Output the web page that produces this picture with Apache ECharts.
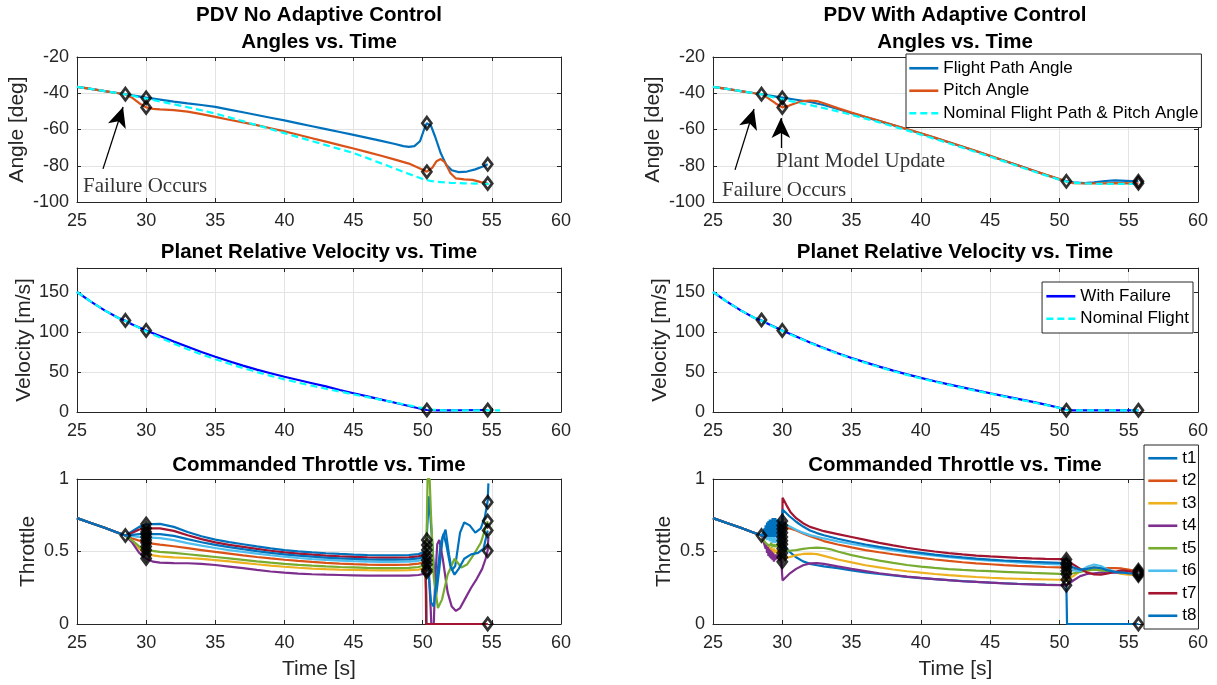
<!DOCTYPE html>
<html><head><meta charset="utf-8">
<script src="https://cdn.jsdelivr.net/npm/echarts/dist/echarts.min.js"></script>
<style>html,body{margin:0;padding:0;background:#fff}#c{width:1217px;height:685px}</style>
</head><body><div id="c"></div><script>
// ---------------- DATA ----------------
const X_MIN = 25, X_MAX = 60, X_STEP = 5;
const ANG_MIN = -100, ANG_MAX = -20, ANG_STEP = 20;
const VEL_MIN = 0, VEL_MAX = 180, VEL_STEP = 50;
const THR_MIN = 0, THR_MAX = 1, THR_STEP = 0.5;

const titleTopL = ['PDV No Adaptive Control', 'Angles vs. Time'];
const titleTopR = ['PDV With Adaptive Control', 'Angles vs. Time'];
const titleVel = 'Planet Relative Velocity vs. Time';
const titleThr = 'Commanded Throttle vs. Time';
const angLegend = ['Flight Path Angle', 'Pitch Angle', 'Nominal Flight Path & Pitch Angle'];
const velLegend = ['With Failure', 'Nominal Flight'];
const thrLegend = ['t1', 't2', 't3', 't4', 't5', 't6', 't7', 't8'];

// --- Angles, no adaptive control
const angL_fpa = [[25,-36.5],[26,-37.6],[27,-38.8],[28,-40],[28.5,-40.5],[29,-41.2],[30,-42.4],[31,-43.5],[32,-44.6],[33,-45.6],[34,-46.5],[35,-47.5],[36,-49],[37,-50.5],[38,-52],[39,-53.5],[40,-55],[41,-56.6],[42,-58.2],[43,-59.8],[44,-61.4],[45,-63],[46,-64.6],[47,-66.3],[48,-68],[48.6,-69.2],[49,-69.6],[49.4,-69.2],[49.8,-66.5],[50.1,-60],[50.3,-56.5],[50.6,-58],[50.9,-64],[51.3,-73],[51.7,-79.5],[52.1,-82.5],[52.6,-83.5],[53.2,-83.2],[53.8,-82],[54.3,-80.5],[54.7,-79.2]];
const angL_pitch = [[25,-36.5],[26,-37.6],[27,-38.8],[28,-40],[28.5,-40.5],[29,-42.5],[29.5,-45.5],[30,-47.8],[30.5,-48.6],[31,-48.9],[32,-49.3],[33,-50.1],[34,-51.5],[35,-53],[36,-54.6],[37,-56.1],[38,-57.6],[39,-59.3],[40,-61],[41,-62.9],[42,-64.8],[43,-66.7],[44,-68.6],[45,-70.5],[46,-72.5],[47,-74.5],[48,-76.6],[49,-78.8],[49.8,-81.5],[50.3,-83.3],[50.7,-81],[51.0,-77.5],[51.3,-76.3],[51.6,-78],[52.0,-84],[52.4,-87],[53,-87.5],[53.6,-87.8],[54.2,-89],[54.7,-89.8]];
const angL_nom = [[25,-36.5],[26,-37.6],[27,-38.8],[28,-40],[28.5,-40.6],[29,-41.4],[30,-43],[31,-44.5],[32,-46.1],[33,-47.7],[34,-49.4],[35,-51.2],[36,-53.3],[37,-55.4],[38,-57.6],[39,-59.8],[40,-62],[41,-64.2],[42,-66.4],[43,-68.6],[44,-70.8],[45,-73],[46,-75.8],[47,-78.7],[48,-81.6],[49,-84.5],[50,-87.3],[50.5,-88.3],[51,-88.9],[52,-89.4],[53,-89.7],[54,-89.9],[54.8,-90]];
const angL_marks = [[28.5,-40.5],[30,-42.5],[30,-47.8],[50.3,-56.5],[50.3,-83.3],[54.7,-79.2],[54.7,-89.8]];

// --- Angles, with adaptive control
const angR_fpa = [[25,-36.5],[26,-37.6],[27,-38.8],[28,-40],[28.5,-40.5],[29,-41.2],[30,-42.4],[31,-43.6],[32,-44.8],[33,-46.5],[34,-48.7],[35,-51],[36,-53.2],[37,-55.4],[38,-57.6],[39,-59.9],[40,-62.2],[41,-64.6],[42,-67],[43,-69.5],[44,-72],[45,-74.6],[46,-77.2],[47,-79.8],[48,-82.4],[49,-85],[50,-87.5],[50.5,-88.5],[51,-89.2],[51.8,-89.6],[52.5,-89.2],[53.3,-88.4],[54,-88.1],[54.8,-88.3],[55.7,-88.6]];
const angR_pitch = [[25,-36.5],[26,-37.6],[27,-38.8],[28,-40],[28.5,-40.5],[29,-42.8],[29.5,-45.5],[30,-47.8],[30.5,-46.8],[31,-45.4],[31.5,-44.3],[32,-44],[32.5,-44.3],[33,-45.5],[34,-48.2],[35,-50.7],[36,-53],[37,-55.2],[38,-57.5],[39,-59.8],[40,-62.1],[41,-64.5],[42,-66.9],[43,-69.4],[44,-71.9],[45,-74.5],[46,-77.1],[47,-79.7],[48,-82.3],[49,-84.9],[50,-87.4],[50.5,-88.7],[51,-89.6],[52,-89.8],[53,-89.7],[54,-89.6],[55.7,-89.7]];
const angR_nom = [[25,-36.5],[26,-37.6],[27,-38.8],[28,-40],[28.5,-40.6],[29,-41.6],[30,-43.4],[31,-45],[32,-46.5],[33,-48.2],[34,-50],[35,-51.9],[36,-54],[37,-56.1],[38,-58.3],[39,-60.5],[40,-62.8],[41,-65.2],[42,-67.6],[43,-70],[44,-72.5],[45,-75],[46,-77.6],[47,-80.2],[48,-82.8],[49,-85.3],[50,-87.7],[50.5,-88.7],[51,-89.4],[52,-89.8],[53,-90],[55.7,-90]];
const angR_marks = [[28.5,-40.5],[30,-42.5],[30,-47.8],[50.5,-88.6],[55.7,-88.6],[55.7,-89.7]];

// --- Velocity
const velL_fail = [[25,150],[26,138],[27,127],[28,117.5],[28.5,114],[29,109.5],[30,102],[31,95],[32,88],[33,81.5],[34,75],[35,69],[36,63.5],[37,58],[38,53],[39,48.5],[40,44],[41,40],[42,36],[43,32],[44,27.5],[45,23.5],[46,19.5],[47,15.5],[48,11.5],[49,7.5],[50,3.5],[50.3,2.5],[51,2],[52,2],[53,2.2],[54,2.4],[54.7,2.5]];
const velL_nom = [[25,150],[26,138],[27,127],[28,117.5],[28.5,114],[29,109.5],[30,101],[31,93],[32,85.5],[33,78.5],[34,72],[35,66],[36,60.3],[37,55],[38,50],[39,45.2],[40,40.8],[41,36.7],[42,32.8],[43,29],[44,25.5],[45,22],[46,18.6],[47,15.2],[48,11.8],[49,8.3],[50,4.8],[50.6,3],[51.5,2],[52.5,2],[53.5,2],[54.5,2],[55.6,2]];
const velL_marks = [[28.5,114.5],[30,102],[50.3,2.5],[54.7,2.5]];
const velR_fail = [[25,150],[26,138],[27,127],[28,117.5],[28.5,114.5],[29,110],[30,102],[31,94.5],[32,87],[33,80],[34,73.5],[35,67.5],[36,62],[37,56.7],[38,51.7],[39,47],[40,42.6],[41,38.5],[42,34.5],[43,30.7],[44,27],[45,23.4],[46,19.9],[47,16.4],[48,12.9],[49,9.3],[50,5.3],[50.5,2.5],[51,2],[52,2],[53,2],[54,2],[55,2],[55.7,2]];
const velR_nom = [[25,150],[26,138],[27,127],[28,117.5],[28.5,114.3],[29,109.7],[30,101.5],[31,93.8],[32,86.4],[33,79.4],[34,72.9],[35,66.9],[36,61.4],[37,56.1],[38,51.1],[39,46.4],[40,42],[41,37.9],[42,33.9],[43,30.1],[44,26.4],[45,22.9],[46,19.4],[47,15.9],[48,12.4],[49,8.9],[50,5],[50.5,2.4],[51,2],[52,2],[53,2],[54,2],[55,2],[55.7,2]];
const velR_marks = [[28.5,115],[30,102],[50.5,2.2],[55.7,2.2]];

// --- Throttle (shared start, before failure)
const thrStart = [[25,0.73],[26,0.697],[27,0.664],[28,0.627],[28.5,0.61]];

// no adaptive control
const thrL_t1 = [[29,0.64],[29.5,0.67],[30,0.688],[31,0.69],[32,0.67],[33,0.635],[34,0.605],[35,0.582],[36,0.565],[37,0.55],[38,0.535],[39,0.522],[40,0.51],[41,0.501],[42,0.494],[43,0.488],[44,0.483],[45,0.479],[46,0.476],[47,0.474],[48,0.474],[49,0.476],[49.7,0.482],[50.2,0.5],[50.3,0.62],[50.45,0.88],[50.55,0.88],[50.7,0.55],[50.95,0.18],[51.2,0.38],[51.45,0.6],[51.65,0.65],[51.9,0.48],[52.1,0.37],[52.35,0.4],[52.7,0.63],[53.0,0.70],[53.4,0.68],[53.8,0.63],[54.2,0.66],[54.5,0.74],[54.7,0.85],[54.75,0.97]];
const thrL_t2 = [[29,0.59],[29.5,0.575],[30,0.56],[31,0.547],[32,0.536],[33,0.523],[34,0.51],[35,0.497],[36,0.485],[37,0.473],[38,0.462],[39,0.452],[40,0.443],[41,0.435],[42,0.428],[43,0.422],[44,0.417],[45,0.413],[46,0.41],[47,0.408],[48,0.408],[49,0.41],[49.7,0.416],[50.2,0.428],[50.3,0.43],[50.3,0],[54.7,0]];
const thrL_t3 = [[29,0.57],[29.5,0.52],[30,0.48],[31,0.466],[32,0.46],[33,0.455],[34,0.449],[35,0.441],[36,0.432],[37,0.422],[38,0.412],[39,0.403],[40,0.395],[41,0.388],[42,0.382],[43,0.378],[44,0.375],[45,0.373],[46,0.371],[47,0.37],[48,0.37],[49,0.371],[49.7,0.375],[50.2,0.385],[50.3,0.39],[50.3,0],[54.7,0]];
const thrL_t4 = [[29,0.56],[29.5,0.49],[30,0.452],[30.5,0.43],[31,0.423],[32,0.42],[33,0.419],[34,0.415],[35,0.407],[36,0.396],[37,0.385],[38,0.373],[39,0.362],[40,0.354],[41,0.348],[42,0.343],[43,0.34],[44,0.338],[45,0.336],[46,0.334],[47,0.333],[48,0.333],[49,0.334],[49.7,0.338],[50.2,0.348],[50.45,0.34],[50.58,0.1],[50.62,0],[50.8,0],[50.9,0.3],[51.05,0.55],[51.2,0.58],[51.45,0.45],[51.8,0.22],[52.1,0.12],[52.4,0.09],[52.7,0.11],[53.1,0.18],[53.5,0.25],[53.9,0.31],[54.3,0.38],[54.55,0.45],[54.7,0.51],[54.75,0.6]];
const thrL_t5 = [[29,0.575],[29.5,0.535],[30,0.51],[31,0.497],[32,0.49],[33,0.481],[34,0.472],[35,0.462],[36,0.452],[37,0.442],[38,0.432],[39,0.423],[40,0.415],[41,0.408],[42,0.402],[43,0.397],[44,0.393],[45,0.39],[46,0.387],[47,0.385],[48,0.385],[49,0.387],[49.7,0.393],[50.2,0.405],[50.3,0.7],[50.35,1.0],[50.5,1.0],[50.6,0.75],[50.8,0.32],[51.1,0.11],[51.4,0.17],[51.8,0.34],[52.3,0.45],[52.8,0.39],[53.2,0.41],[53.7,0.48],[54.2,0.56],[54.5,0.65],[54.7,0.71]];
const thrL_t6 = [[29,0.605],[29.5,0.6],[30,0.598],[31,0.592],[32,0.578],[33,0.558],[34,0.54],[35,0.524],[36,0.51],[37,0.497],[38,0.485],[39,0.474],[40,0.464],[41,0.455],[42,0.448],[43,0.442],[44,0.437],[45,0.433],[46,0.43],[47,0.428],[48,0.428],[49,0.43],[49.7,0.436],[50.2,0.448],[50.3,0.45],[50.3,0],[54.7,0]];
const thrL_t7 = [[29,0.63],[29.5,0.652],[30,0.66],[31,0.66],[32,0.642],[33,0.612],[34,0.585],[35,0.563],[36,0.546],[37,0.532],[38,0.518],[39,0.505],[40,0.494],[41,0.485],[42,0.478],[43,0.472],[44,0.467],[45,0.463],[46,0.46],[47,0.458],[48,0.458],[49,0.46],[49.7,0.466],[50.2,0.48],[50.25,0.48],[50.25,0],[54.7,0]];
const thrL_t8 = [[29,0.615],[29.5,0.62],[30,0.62],[31,0.62],[32,0.608],[33,0.585],[34,0.564],[35,0.546],[36,0.53],[37,0.516],[38,0.503],[39,0.491],[40,0.48],[41,0.471],[42,0.464],[43,0.458],[44,0.453],[45,0.449],[46,0.446],[47,0.444],[48,0.444],[49,0.446],[49.7,0.452],[50.2,0.465],[50.35,0.45],[50.6,0.15],[50.8,0.12],[51.0,0.3],[51.3,0.55],[51.5,0.62],[51.7,0.55],[52.0,0.4],[52.3,0.34],[52.6,0.38],[53,0.45],[53.5,0.48],[54,0.49],[54.4,0.52],[54.7,0.645]];
const thrL_marks = [[28.5,0.61],[30,0.69],[30,0.66],[30,0.635],[30,0.62],[30,0.6],[30,0.58],[30,0.56],[30,0.535],[30,0.51],[30,0.48],[30,0.452],[50.3,0.58],[50.3,0.545],[50.3,0.51],[50.3,0.47],[50.3,0.44],[50.3,0.41],[50.3,0.375],[50.3,0.36],[54.7,0.84],[54.7,0.71],[54.7,0.645],[54.7,0.505],[54.7,0]];

// with adaptive control
const thrR_t1 = [[28.7,0.6],[29,0.6],[29.3,0.61],[29.6,0.615],[30,0.6],[30.02,0.55],[30.5,0.5],[31,0.46],[31.5,0.432],[32,0.415],[32.5,0.405],[33,0.398],[34,0.385],[35,0.37],[36,0.356],[37,0.345],[38,0.335],[39,0.325],[40,0.317],[41,0.309],[42,0.302],[43,0.296],[44,0.29],[45,0.285],[46,0.281],[47,0.277],[48,0.274],[49,0.271],[50,0.269],[50.5,0.268],[50.55,0],[55.7,0]];
const thrR_t2 = [[28.7,0.59],[29,0.6],[29.3,0.61],[29.6,0.615],[30,0.62],[30.02,0.665],[30.5,0.66],[31,0.645],[31.5,0.625],[32,0.605],[33,0.572],[34,0.548],[35,0.528],[36,0.51],[37,0.495],[38,0.481],[39,0.468],[40,0.456],[41,0.445],[42,0.435],[43,0.426],[44,0.418],[45,0.412],[46,0.406],[47,0.401],[48,0.397],[49,0.393],[50,0.39],[50.5,0.388],[51,0.375],[51.5,0.37],[52,0.37],[52.5,0.375],[53,0.38],[53.5,0.385],[54,0.385],[54.5,0.383],[55,0.375],[55.7,0.36]];
const thrR_t3 = [[28.7,0.56],[28.9,0.52],[29,0.54],[29.1,0.5],[29.2,0.53],[29.3,0.49],[29.4,0.52],[29.5,0.49],[29.6,0.51],[29.7,0.48],[29.8,0.5],[29.9,0.47],[30,0.48],[30.02,0.45],[30.5,0.46],[31,0.475],[31.5,0.483],[32,0.486],[32.5,0.482],[33,0.47],[34,0.445],[35,0.425],[36,0.405],[37,0.39],[38,0.376],[39,0.364],[40,0.354],[41,0.345],[42,0.337],[43,0.33],[44,0.324],[45,0.319],[46,0.315],[47,0.312],[48,0.309],[49,0.307],[50,0.305],[50.5,0.304],[51,0.33],[51.5,0.365],[52,0.385],[52.5,0.39],[53,0.38],[53.5,0.365],[54,0.355],[54.5,0.345],[55,0.34],[55.7,0.335]];
const thrR_t4 = [[28.6,0.58],[28.7,0.55],[28.8,0.52],[28.85,0.55],[28.9,0.49],[28.95,0.53],[29.0,0.47],[29.05,0.52],[29.1,0.46],[29.15,0.51],[29.2,0.45],[29.25,0.5],[29.3,0.44],[29.35,0.49],[29.4,0.43],[29.45,0.48],[29.5,0.44],[29.55,0.48],[29.6,0.45],[29.7,0.47],[29.8,0.46],[29.9,0.47],[30,0.46],[30.02,0.3],[30.5,0.345],[31,0.38],[31.5,0.405],[32,0.418],[32.5,0.42],[33,0.415],[34,0.397],[35,0.38],[36,0.365],[37,0.35],[38,0.338],[39,0.327],[40,0.318],[41,0.31],[42,0.302],[43,0.295],[44,0.29],[45,0.285],[46,0.28],[47,0.276],[48,0.273],[49,0.27],[50,0.268],[50.5,0.266],[51,0.3],[51.5,0.33],[52,0.345],[52.5,0.35],[53,0.355],[54,0.355],[55,0.35],[55.7,0.35]];
const thrR_t5 = [[28.7,0.57],[28.9,0.55],[29,0.56],[29.1,0.54],[29.2,0.56],[29.3,0.53],[29.4,0.55],[29.5,0.53],[29.6,0.55],[29.7,0.53],[29.8,0.55],[29.9,0.53],[30,0.54],[30.02,0.51],[30.5,0.505],[31,0.51],[31.5,0.518],[32,0.524],[32.5,0.527],[33,0.524],[33.5,0.515],[34,0.5],[35,0.475],[36,0.455],[37,0.437],[38,0.421],[39,0.407],[40,0.396],[41,0.387],[42,0.379],[43,0.373],[44,0.368],[45,0.364],[46,0.36],[47,0.356],[48,0.352],[49,0.349],[50,0.346],[50.5,0.345],[51,0.35],[51.5,0.36],[52,0.37],[52.5,0.375],[53,0.37],[54,0.36],[55,0.355],[55.7,0.35]];
const thrR_t6 = [[28.7,0.59],[28.8,0.62],[28.9,0.58],[29,0.62],[29.1,0.57],[29.2,0.61],[29.3,0.56],[29.4,0.6],[29.5,0.56],[29.6,0.6],[29.7,0.56],[29.8,0.6],[29.9,0.57],[30,0.6],[30.02,0.7],[30.5,0.675],[31,0.65],[31.5,0.63],[32,0.613],[33,0.59],[34,0.57],[35,0.552],[36,0.536],[37,0.521],[38,0.507],[39,0.494],[40,0.482],[41,0.471],[42,0.461],[43,0.452],[44,0.444],[45,0.437],[46,0.431],[47,0.425],[48,0.42],[49,0.415],[50,0.411],[50.5,0.408],[51,0.37],[51.5,0.365],[52,0.395],[52.5,0.41],[53,0.4],[53.5,0.375],[54,0.36],[54.5,0.355],[55,0.355],[55.7,0.355]];
const thrR_t7 = [[28.7,0.6],[29,0.61],[29.3,0.62],[29.5,0.63],[29.7,0.64],[30,0.65],[30.02,0.87],[30.3,0.82],[30.6,0.77],[31,0.73],[31.5,0.695],[32,0.67],[32.5,0.655],[33,0.64],[34,0.62],[35,0.6],[36,0.58],[37,0.56],[38,0.542],[39,0.526],[40,0.512],[41,0.5],[42,0.489],[43,0.48],[44,0.472],[45,0.466],[46,0.461],[47,0.456],[48,0.452],[49,0.449],[50,0.447],[50.5,0.445],[51,0.41],[51.5,0.38],[52,0.355],[52.5,0.342],[53,0.34],[53.5,0.348],[54,0.36],[54.5,0.37],[55,0.365],[55.7,0.35]];
const thrR_t8 = [[28.6,0.63],[28.65,0.6],[28.7,0.66],[28.75,0.6],[28.8,0.68],[28.85,0.6],[28.9,0.7],[28.95,0.6],[29.0,0.71],[29.05,0.6],[29.1,0.72],[29.15,0.6],[29.2,0.72],[29.25,0.6],[29.3,0.73],[29.35,0.6],[29.4,0.73],[29.45,0.6],[29.5,0.73],[29.55,0.6],[29.6,0.72],[29.65,0.6],[29.7,0.72],[29.75,0.6],[29.8,0.71],[29.85,0.6],[29.9,0.7],[29.95,0.62],[30,0.68],[30.02,0.79],[30.5,0.745],[31,0.705],[31.5,0.672],[32,0.645],[32.5,0.627],[33,0.612],[34,0.588],[35,0.567],[36,0.548],[37,0.532],[38,0.517],[39,0.503],[40,0.491],[41,0.479],[42,0.468],[43,0.459],[44,0.451],[45,0.444],[46,0.438],[47,0.433],[48,0.428],[49,0.425],[50,0.422],[50.5,0.42],[51,0.39],[51.5,0.375],[52,0.38],[52.5,0.39],[53,0.385],[53.5,0.37],[54,0.36],[54.5,0.355],[55,0.35],[55.7,0.345]];
const thrR_marks = [[28.5,0.61],[30,0.71],[30,0.68],[30,0.655],[30,0.63],[30,0.6],[30,0.575],[30,0.55],[30,0.52],[30,0.49],[30,0.46],[30,0.43],[50.5,0.445],[50.5,0.42],[50.5,0.41],[50.5,0.39],[50.5,0.365],[50.5,0.345],[50.5,0.305],[50.5,0.268],[55.7,0.37],[55.7,0.36],[55.7,0.35],[55.7,0.345],[55.7,0.335],[55.7,0]];

// --- Annotations (data coordinates)
const noteL_failText = [25.43, -91.2];
const noteL_failArrow = [[26.88, -81.7], [28.33, -47.6]];
const noteR_failText = [25.65, -93.9];
const noteR_failArrow = [[26.59, -82.3], [27.96, -48.7]];
const noteR_updText = [29.55, -77.9];
const noteR_updArrow = [[29.9, -70.2], [29.9, -53.7]];

// ---------------- STYLE / BUILD ----------------
const FONT = '"Liberation Sans", Arial, Helvetica, sans-serif';
const SERIF = '"Liberation Serif", "Times New Roman", serif';
const INK = '#262626';
const GRIDLINE = '#e3e3e3';
const C = ['#0072BD', '#D95319', '#EDB120', '#7E2F8E', '#77AC30', '#4DBEEE', '#A2142F', '#0072BD'];
const BLUE = '#0000FF', CYAN = '#00FFFF';
const TICK_FS = 18, NAME_FS = 21, TITLE_FS = 20.5;

const grids = [
  {left: 77, top: 57, width: 484, height: 145},
  {left: 713, top: 57, width: 485, height: 145},
  {left: 77, top: 268, width: 484, height: 144},
  {left: 713, top: 268, width: 485, height: 144},
  {left: 77, top: 479, width: 484, height: 145},
  {left: 713, top: 479, width: 485, height: 145}
];

const xAxes = [], yAxes = [];
function axisCommon() {
  return {
    axisLine: {show: true, onZero: false, lineStyle: {color: INK, width: 1}},
    axisTick: {show: true, inside: true, length: 4, lineStyle: {color: INK, width: 1}},
  };
}
function addAxes(g, yMin, yMax, yStep, yName, nameGap, xName, hideMax) {
  xAxes.push(Object.assign(axisCommon(), {
    gridIndex: g, type: 'value', position: 'bottom', min: X_MIN, max: X_MAX, interval: X_STEP,
    axisLabel: {show: true, color: INK, fontSize: TICK_FS, fontFamily: FONT, margin: 10},
    splitLine: {show: true, lineStyle: {color: GRIDLINE, width: 1}},
    name: xName || '', nameLocation: 'middle', nameGap: 35,
    nameTextStyle: {color: INK, fontSize: NAME_FS, fontFamily: FONT}
  }));
  xAxes.push(Object.assign(axisCommon(), {
    gridIndex: g, type: 'value', position: 'top', min: X_MIN, max: X_MAX, interval: X_STEP,
    axisLabel: {show: false}, splitLine: {show: false}
  }));
  yAxes.push(Object.assign(axisCommon(), {
    gridIndex: g, type: 'value', position: 'left', min: yMin, max: yMax, interval: yStep,
    axisLabel: {show: true, color: INK, fontSize: TICK_FS, fontFamily: FONT, margin: 8, showMaxLabel: !hideMax},
    splitLine: {show: true, lineStyle: {color: GRIDLINE, width: 1}},
    name: yName, nameLocation: 'middle', nameGap: nameGap,
    nameTextStyle: {color: INK, fontSize: NAME_FS, fontFamily: FONT}
  }));
  yAxes.push(Object.assign(axisCommon(), {
    gridIndex: g, type: 'value', position: 'right', min: yMin, max: yMax, interval: yStep,
    axisLabel: {show: false}, splitLine: {show: false}
  }));
}
addAxes(0, ANG_MIN, ANG_MAX, ANG_STEP, 'Angle [deg]', 49.5);
addAxes(1, ANG_MIN, ANG_MAX, ANG_STEP, 'Angle [deg]', 49.5);
addAxes(2, VEL_MIN, VEL_MAX, VEL_STEP, 'Velocity [m/s]', 41.5, '', true);
addAxes(3, VEL_MIN, VEL_MAX, VEL_STEP, 'Velocity [m/s]', 41.5, '', true);
addAxes(4, THR_MIN, THR_MAX, THR_STEP, 'Throttle', 38, 'Time [s]');
addAxes(5, THR_MIN, THR_MAX, THR_STEP, 'Throttle', 38, 'Time [s]');

function line(name, g, data, color, dashed) {
  return {
    name, type: 'line', xAxisIndex: 2 * g, yAxisIndex: 2 * g, data,
    symbol: 'none', showSymbol: false, clip: true, silent: true,
    lineStyle: {color, width: 2.2, type: dashed ? [7, 4] : 'solid'},
    itemStyle: {color}, emphasis: {disabled: true}, z: 2
  };
}
function marks(g, data) {
  return {
    type: 'scatter', xAxisIndex: 2 * g, yAxisIndex: 2 * g, data, silent: true,
    symbol: 'diamond', symbolSize: [9, 12],
    itemStyle: {color: 'rgba(0,0,0,0)', borderColor: '#000', borderWidth: 2.8},
    emphasis: {disabled: true}, z: 5
  };
}
function arrowLine(arrow) {
  return {
    silent: true, symbol: ['none', 'arrow'], symbolSize: [14, 20], animation: false,
    label: {show: false}, itemStyle: {color: '#000'},
    lineStyle: {color: '#000', width: 1.3, type: 'solid'}, emphasis: {disabled: true},
    data: [[{coord: arrow[0]}, {coord: arrow[1]}]]
  };
}
function note(g, pos, text, arrow) {
  const s = {
    type: 'scatter', xAxisIndex: 2 * g, yAxisIndex: 2 * g, data: [pos], symbolSize: 0, silent: true,
    label: {show: true, position: 'right', distance: 0, formatter: text, fontFamily: SERIF, fontSize: 21, color: '#000'},
    emphasis: {disabled: true}, z: 6
  };
  if (arrow) s.markLine = arrowLine(arrow);
  return s;
}

const thrLSets = [thrL_t1, thrL_t2, thrL_t3, thrL_t4, thrL_t5, thrL_t6, thrL_t7, thrL_t8];
const thrRSets = [thrR_t1, thrR_t2, thrR_t3, thrR_t4, thrR_t5, thrR_t6, thrR_t7, thrR_t8];

const series = [
  line('FPA (no adaptive)', 0, angL_fpa, C[0]),
  line('Pitch (no adaptive)', 0, angL_pitch, C[1]),
  line('Nominal (no adaptive)', 0, angL_nom, CYAN, true),
  marks(0, angL_marks),
  note(0, noteL_failText, 'Failure Occurs', noteL_failArrow),

  line(angLegend[0], 1, angR_fpa, C[0]),
  line(angLegend[1], 1, angR_pitch, C[1]),
  line(angLegend[2], 1, angR_nom, CYAN, true),
  marks(1, angR_marks),
  note(1, noteR_failText, 'Failure Occurs', noteR_failArrow),
  note(1, noteR_updText, 'Plant Model Update', noteR_updArrow),

  line('With Failure (no adaptive)', 2, velL_fail, BLUE),
  line('Nominal Flight (no adaptive)', 2, velL_nom, CYAN, true),
  marks(2, velL_marks),

  line(velLegend[0], 3, velR_fail, BLUE),
  line(velLegend[1], 3, velR_nom, CYAN, true),
  marks(3, velR_marks)
];
thrLSets.forEach((d, i) => series.push(line('L' + thrLegend[i], 4, thrStart.concat(d), C[i])));
series.push(marks(4, thrL_marks));
thrRSets.forEach((d, i) => series.push(line(thrLegend[i], 5, thrStart.concat(d), C[i])));
series.push(marks(5, thrR_marks));

const legendBase = {
  orient: 'vertical', itemWidth: 29, itemHeight: 12, itemGap: 4,
  borderColor: INK, borderWidth: 1, backgroundColor: '#fff', borderRadius: 0,
  selectedMode: false, z: 10,
  itemStyle: {opacity: 0, borderWidth: 0},
  lineStyle: {width: 2.6},
  textStyle: {fontSize: 17, fontFamily: FONT, color: '#000', lineHeight: 18.5}
};
const legends = [
  Object.assign({}, legendBase, {data: angLegend, left: 906, top: 54, padding: [5, 3, 5, 2]}),
  Object.assign({}, legendBase, {data: velLegend, right: 24, top: 282, padding: [5, 4, 5, 3]}),
  Object.assign({}, legendBase, {data: thrLegend, left: 1144, top: 445, padding: [4, 2, 4, 3]})
];

function titleText(x, y, text) {
  return {
    type: 'text', x, y, silent: true, z: 20,
    style: {text, font: 'bold ' + TITLE_FS + 'px ' + FONT, fill: '#000', align: 'center', verticalAlign: 'middle', textAlign: 'center', textVerticalAlign: 'middle'}
  };
}
const graphics = [
  titleText(319, 15, titleTopL[0]), titleText(319, 42, titleTopL[1]),
  titleText(955, 15, titleTopR[0]), titleText(955, 42, titleTopR[1]),
  titleText(319, 252, titleVel), titleText(955, 252, titleVel),
  titleText(319, 465, titleThr), titleText(955, 465, titleThr)
];

const chart = echarts.init(document.getElementById('c'), null, {renderer: 'canvas'});
chart.setOption({
  backgroundColor: '#fff',
  animation: false,
  grid: grids,
  xAxis: xAxes,
  yAxis: yAxes,
  legend: legends,
  graphic: graphics,
  series
});
</script></body></html>
